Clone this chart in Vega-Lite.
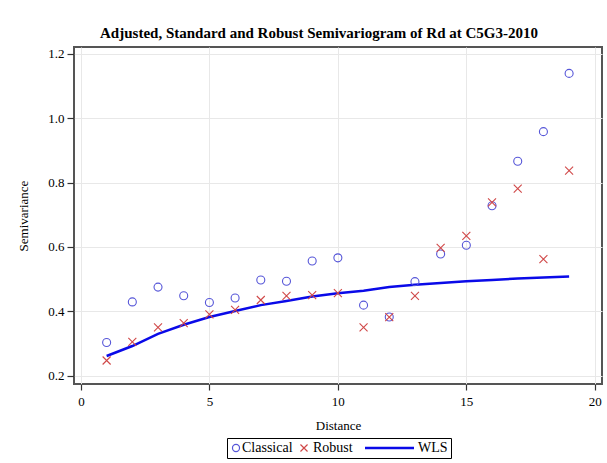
{
  "$schema": "https://vega.github.io/schema/vega-lite/v6.json",
  "width": 528,
  "height": 337,
  "autosize": {"type": "none"},
  "padding": {"left": 74, "top": 47, "right": 5, "bottom": 79},
  "background": "white",
  "title": {
    "text": "Adjusted, Standard and Robust Semivariogram of Rd at  C5G3-2010",
    "font": "Liberation Serif",
    "fontSize": 15,
    "fontWeight": "bold",
    "color": "black",
    "anchor": "middle",
    "dx": -19,
    "dy": 15,
    "baseline": "alphabetic",
    "offset": 9
  },
  "config": {
    "font": "Liberation Serif",
    "view": {"stroke": "#555555", "strokeWidth": 2},
    "axis": {
      "labelFont": "Liberation Serif",
      "labelFontSize": 13,
      "labelColor": "black",
      "titleFont": "Liberation Serif",
      "titleFontSize": 13,
      "titleFontWeight": "normal",
      "titleColor": "black",
      "domain": false,
      "grid": true,
      "gridColor": "#e8e8e8",
      "gridWidth": 1,
      "tickColor": "#333333",
      "tickWidth": 1.2
    },
    "legend": {
      "labelFont": "Liberation Serif",
      "labelFontSize": 14,
      "labelColor": "black"
    }
  },
  "data": {
    "values": [
      {"d": 1, "series": "Classical", "v": 0.303},
      {"d": 2, "series": "Classical", "v": 0.429},
      {"d": 3, "series": "Classical", "v": 0.475},
      {"d": 4, "series": "Classical", "v": 0.448},
      {"d": 5, "series": "Classical", "v": 0.427},
      {"d": 6, "series": "Classical", "v": 0.441},
      {"d": 7, "series": "Classical", "v": 0.497},
      {"d": 8, "series": "Classical", "v": 0.493},
      {"d": 9, "series": "Classical", "v": 0.556},
      {"d": 10, "series": "Classical", "v": 0.566},
      {"d": 11, "series": "Classical", "v": 0.419},
      {"d": 12, "series": "Classical", "v": 0.382},
      {"d": 13, "series": "Classical", "v": 0.492},
      {"d": 14, "series": "Classical", "v": 0.578},
      {"d": 15, "series": "Classical", "v": 0.605},
      {"d": 16, "series": "Classical", "v": 0.728},
      {"d": 17, "series": "Classical", "v": 0.866},
      {"d": 18, "series": "Classical", "v": 0.958},
      {"d": 19, "series": "Classical", "v": 1.139},
      {"d": 1, "series": "Robust", "v": 0.247},
      {"d": 2, "series": "Robust", "v": 0.305},
      {"d": 3, "series": "Robust", "v": 0.350},
      {"d": 4, "series": "Robust", "v": 0.363},
      {"d": 5, "series": "Robust", "v": 0.390},
      {"d": 6, "series": "Robust", "v": 0.404},
      {"d": 7, "series": "Robust", "v": 0.435},
      {"d": 8, "series": "Robust", "v": 0.448},
      {"d": 9, "series": "Robust", "v": 0.450},
      {"d": 10, "series": "Robust", "v": 0.456},
      {"d": 11, "series": "Robust", "v": 0.350},
      {"d": 12, "series": "Robust", "v": 0.382},
      {"d": 13, "series": "Robust", "v": 0.448},
      {"d": 14, "series": "Robust", "v": 0.597},
      {"d": 15, "series": "Robust", "v": 0.634},
      {"d": 16, "series": "Robust", "v": 0.738},
      {"d": 17, "series": "Robust", "v": 0.781},
      {"d": 18, "series": "Robust", "v": 0.562},
      {"d": 19, "series": "Robust", "v": 0.837},
      {"d": 1, "series": "WLS", "v": 0.261},
      {"d": 2, "series": "WLS", "v": 0.292},
      {"d": 3, "series": "WLS", "v": 0.330},
      {"d": 4, "series": "WLS", "v": 0.358},
      {"d": 5, "series": "WLS", "v": 0.382},
      {"d": 6, "series": "WLS", "v": 0.401},
      {"d": 7, "series": "WLS", "v": 0.419},
      {"d": 8, "series": "WLS", "v": 0.432},
      {"d": 9, "series": "WLS", "v": 0.446},
      {"d": 10, "series": "WLS", "v": 0.456},
      {"d": 11, "series": "WLS", "v": 0.464},
      {"d": 12, "series": "WLS", "v": 0.475},
      {"d": 13, "series": "WLS", "v": 0.482},
      {"d": 14, "series": "WLS", "v": 0.488},
      {"d": 15, "series": "WLS", "v": 0.493},
      {"d": 16, "series": "WLS", "v": 0.497},
      {"d": 17, "series": "WLS", "v": 0.502},
      {"d": 18, "series": "WLS", "v": 0.505},
      {"d": 19, "series": "WLS", "v": 0.508}
    ]
  },
  "encoding": {
    "x": {
      "field": "d",
      "type": "quantitative",
      "scale": {"domain": [-0.27, 20.28], "nice": false, "zero": false},
      "axis": {
        "values": [0, 5, 10, 15, 20],
        "title": "Distance",
        "tickSize": 6,
        "labelPadding": 5,
        "titlePadding": 11
      }
    },
    "y": {
      "field": "v",
      "type": "quantitative",
      "scale": {"domain": [0.174, 1.221], "nice": false, "zero": false},
      "axis": {
        "values": [0.2, 0.4, 0.6, 0.8, 1.0, 1.2],
        "format": ".1f",
        "title": "Semivariance",
        "tickSize": 7,
        "labelPadding": 3,
        "titlePadding": 17
      }
    },
    "color": {
      "field": "series",
      "type": "nominal",
      "scale": {
        "domain": ["Classical", "Robust", "WLS"],
        "range": ["#5656d8", "#d04848", "#0a0ae8"]
      },
      "legend": {
        "title": null,
        "orient": "none",
        "legendX": 153,
        "legendY": 391,
        "direction": "horizontal",
        "strokeColor": "black",
        "padding": 3,
        "columnPadding": 5,
        "encode": {
          "symbols": {
            "update": {
              "size": {"signal": "datum.value === 'WLS' ? 2401 : 50"},
              "strokeWidth": {"signal": "datum.value === 'WLS' ? 2.5 : 1.2"},
              "x": {"signal": "datum.value === 'WLS' ? 31.5 : 6"}
            }
          },
          "labels": {
            "update": {
              "x": {"signal": "datum.value === 'WLS' ? 60 : (datum.value === 'Robust' ? 15 : 12)"}
            }
          }
        }
      }
    }
  },
  "layer": [
    {
      "transform": [{"filter": "datum.series === 'WLS'"}],
      "mark": {"type": "line", "strokeWidth": 2.5}
    },
    {
      "transform": [{"filter": "datum.series !== 'WLS'"}],
      "mark": {"type": "point", "filled": false, "size": 64, "strokeWidth": 1.1, "opacity": 1},
      "encoding": {
        "shape": {
          "field": "series",
          "type": "nominal",
          "scale": {
            "domain": ["Classical", "Robust", "WLS"],
            "range": ["circle", "M-1,-1L1,1M-1,1L1,-1", "stroke"]
          },
          "legend": {
            "title": null,
            "orient": "none",
            "legendX": 153,
            "legendY": 391,
            "direction": "horizontal"
          }
        }
      }
    }
  ]
}
